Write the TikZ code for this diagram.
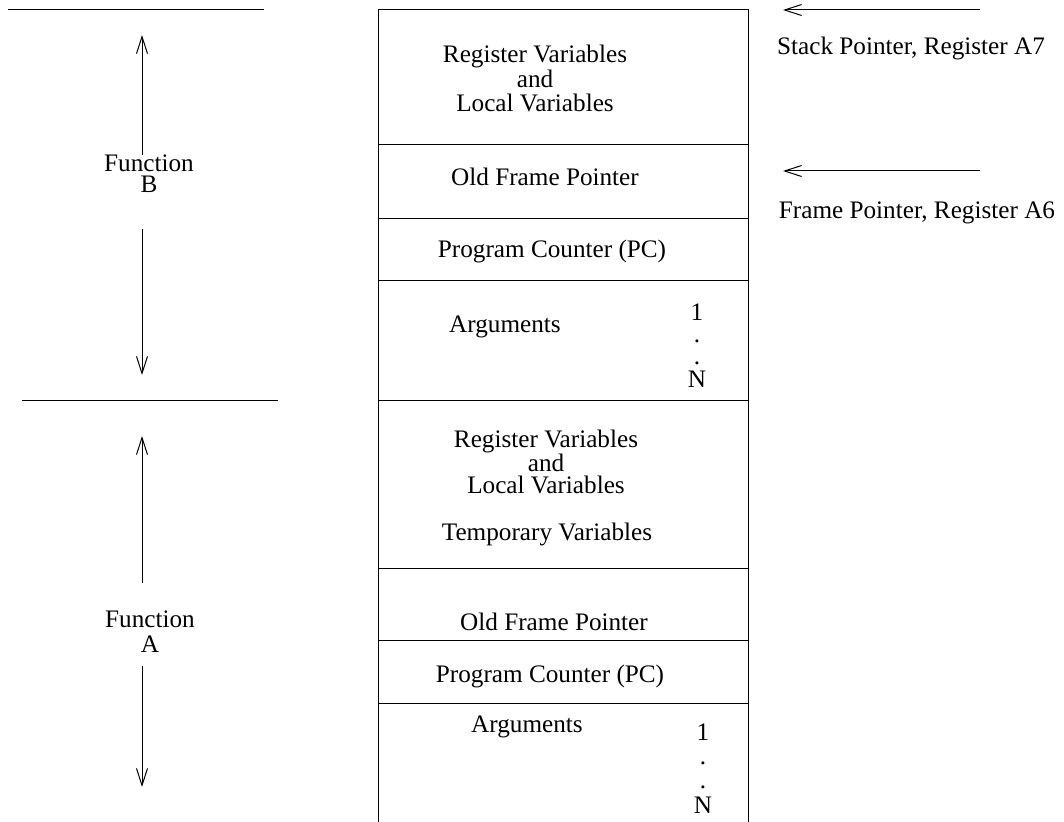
\documentclass[tikz,border=0pt]{standalone}
\usepackage{fontspec}
\setmainfont{Liberation Serif}
\usepackage{tikz}
\usetikzlibrary{positioning,arrows.meta,calc}
\tikzset{
  stxt/.style={font=\fontsize{25.2}{24.5}\selectfont,inner sep=0pt,align=center,anchor=base},
  stxttight/.style={stxt,font=\fontsize{25.2}{21.5}\selectfont},
  sline/.style={line width=1pt,line cap=rect},
  sarrow/.style={-{Straight Barb[length=17pt,width=11pt]},line width=1pt}
}
\begin{document}
\begin{tikzpicture}[x=1pt,y=-1pt]
  \useasboundingbox (0,0) rectangle (1064,821);
  % stack frame column
  \draw[sline] (378,821) -- (378,10) -- (748,10) -- (748,821);
  \foreach \yy in {145,218,280,400,568,640,703}
    \draw[sline] (378,\yy) -- (748,\yy);
  % frame limits
  \draw[sline] (8,10) -- (263,10);
  \draw[sline] (22,400) -- (277,400);
  % function B frame (multi-line nodes sit on their last baseline)
  \node[stxt] (regB) at (535,112) {Register Variables\\and\\Local Variables};
  \node[stxt] (ofpB) at (545,185) {Old Frame Pointer};
  \node[stxt] (pcB) at (552,257) {Program Counter (PC)};
  \node[stxt] (argB) at (505,332) {Arguments};
  \node[stxt,font=\fontsize{25.2}{22.3}\selectfont] (argnB) at (697,387) {1\\.\\.\\N};
  % function A frame
  \node[stxttight] (regA) at (546,493) {Register Variables\\and\\Local Variables};
  \node[stxt] (tmpA) at (547,540) {Temporary Variables};
  \node[stxt] (ofpA) at (554,630) {Old Frame Pointer};
  \node[stxt] (pcA) at (550,682) {Program Counter (PC)};
  \node[stxt] (argA) at (527,732) {Arguments};
  \node[stxt,font=\fontsize{25.2}{24.3}\selectfont] (argnA) at (703,813) {1\\.\\.\\N};
  % extents
  \node[stxt,font=\fontsize{25.2}{21}\selectfont] (funcB) at (149,193) {Function\\B};
  \node[stxt,font=\fontsize{25.2}{25}\selectfont] (funcA) at (150,652) {Function\\A};
  \coordinate (bUpFrom) at (142,155);
  \coordinate (bUpTo) at (142,35);
  \coordinate (bDownFrom) at (142,229);
  \coordinate (bDownTo) at (142,375);
  \coordinate (aUpFrom) at (142,583);
  \coordinate (aUpTo) at (142,436);
  \coordinate (aDownFrom) at (142,666);
  \coordinate (aDownTo) at (142,787);
  \draw[sarrow] (bUpFrom) -- (bUpTo);
  \draw[sarrow] (bDownFrom) -- (bDownTo);
  \draw[sarrow] (aUpFrom) -- (aUpTo);
  \draw[sarrow] (aDownFrom) -- (aDownTo);
  % registers
  \node[stxt] (spLabel) at (911,55) {Stack Pointer, Register A7};
  \node[stxt] (fpLabel) at (917,218) {Frame Pointer, Register A6};
  \coordinate (spFrom) at (980,10);
  \coordinate (spTo) at (783,10);
  \coordinate (fpFrom) at (980,171);
  \coordinate (fpTo) at (783,171);
  \draw[sarrow] (spFrom) -- (spTo);
  \draw[sarrow] (fpFrom) -- (fpTo);
\end{tikzpicture}
\end{document}
